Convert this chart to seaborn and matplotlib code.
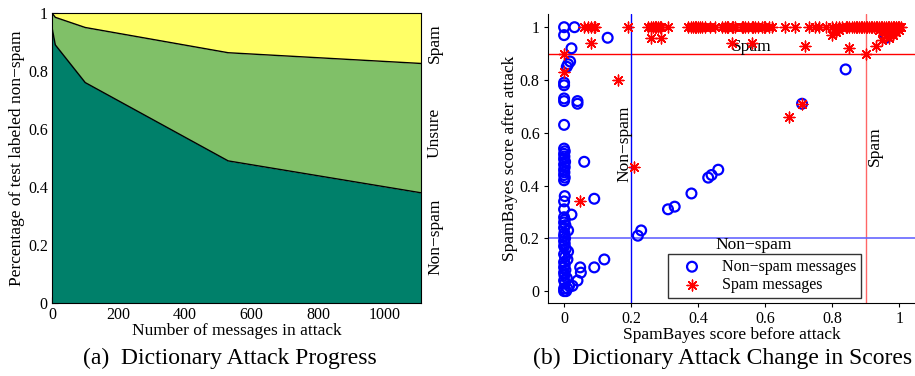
import numpy as np
import pandas as pd
import matplotlib
matplotlib.use("Agg")
import matplotlib.pyplot as plt
import seaborn as sns

# ---- data: (a) attack progress (stacked fractions) ----
n_attack = [0, 10, 100, 530, 1110]
frac_nonspam = [0.95, 0.89, 0.76, 0.49, 0.38]
frac_not_spam = [1.00, 0.985, 0.95, 0.863, 0.826]   # non-spam + unsure

# ---- data: (b) scores before/after attack ----
ns_before = [0.000, 0.000, 0.031, 0.130, 0.022, 0.018, 0.012, 0.008,
             0.000, 0.000, 0.000, 0.000, 0.040, 0.040, 0.000,
             0.000, 0.002, 0.000, 0.001, 0.000, 0.003, 0.000, 0.002, 0.000, 0.001, 0.000, 0.002, 0.000, 0.060,
             0.002, 0.000, 0.000, 0.090, 0.022,
             0.000, 0.002, 0.000, 0.004, 0.000, 0.012, 0.001, 0.000, 0.003, 0.000, 0.002, 0.000, 0.005, 0.012,
             0.000, 0.003, 0.010, 0.000, 0.002, 0.000, 0.004, 0.000, 0.001, 0.008, 0.000, 0.003, 0.015, 0.000,
             0.006, 0.000, 0.010,
             0.048, 0.050, 0.040, 0.090, 0.120, 0.025,
             0.220, 0.230, 0.310, 0.330, 0.380, 0.430, 0.440, 0.460, 0.710, 0.840, 0.960]
ns_after = [1.00, 0.97, 1.00, 0.96, 0.92, 0.87, 0.86, 0.85,
            0.79, 0.78, 0.73, 0.72, 0.72, 0.71, 0.63,
            0.54, 0.53, 0.52, 0.51, 0.50, 0.49, 0.48, 0.47, 0.46, 0.45, 0.44, 0.43, 0.42, 0.49,
            0.36, 0.34, 0.31, 0.35, 0.29,
            0.28, 0.27, 0.26, 0.25, 0.24, 0.23, 0.22, 0.21, 0.20, 0.19, 0.18, 0.17, 0.16, 0.15,
            0.14, 0.13, 0.12, 0.11, 0.10, 0.09, 0.08, 0.07, 0.06, 0.05, 0.04, 0.03, 0.02, 0.01,
            0.00, 0.00, 0.01,
            0.09, 0.07, 0.04, 0.09, 0.12, 0.02,
            0.21, 0.23, 0.31, 0.32, 0.37, 0.43, 0.44, 0.46, 0.71, 0.84, 0.96]

sp_before = [0.000, 0.000, 0.060, 0.070, 0.080, 0.088, 0.093, 0.080, 0.160, 0.190, 0.210, 0.048,
             0.260, 0.290,
             0.25, 0.26, 0.265, 0.27, 0.275, 0.28, 0.285, 0.29, 0.31,
             0.37, 0.38, 0.385, 0.39, 0.395, 0.40, 0.405, 0.41, 0.42, 0.435, 0.45,
             0.47, 0.48, 0.485, 0.49, 0.50, 0.505, 0.51,
             0.53, 0.535, 0.54, 0.55, 0.56, 0.565, 0.57, 0.58, 0.59, 0.595, 0.60, 0.61, 0.62,
             0.66, 0.69, 0.73, 0.75, 0.76, 0.78,
             0.80, 0.81, 0.82, 0.83, 0.84, 0.845, 0.85, 0.86, 0.865, 0.87, 0.875, 0.88, 0.885,
             0.89, 0.895, 0.90, 0.905, 0.91, 0.915, 0.92, 0.925, 0.93, 0.935, 0.94, 0.945, 0.95,
             0.955, 0.96, 0.965, 0.97, 0.975, 0.98, 0.985, 0.99, 0.995, 1.00, 1.005,
             0.50, 0.56, 0.72, 0.85, 0.90, 0.93, 0.67, 0.71, 0.81, 0.82, 0.80,
             0.95, 0.96, 0.97, 0.98, 0.96, 0.97, 0.99, 1.00, 0.95, 0.98, 0.94, 0.99]
sp_after = [0.90, 0.83, 1.00, 1.00, 1.00, 1.00, 1.00, 0.94, 0.80, 1.00, 0.47, 0.34,
            0.96, 0.96,
            1.00, 1.00, 1.00, 1.00, 1.00, 1.00, 1.00, 1.00, 1.00,
            1.00, 1.00, 1.00, 1.00, 1.00, 1.00, 1.00, 1.00, 1.00, 1.00, 1.00,
            1.00, 1.00, 1.00, 1.00, 1.00, 1.00, 1.00,
            1.00, 1.00, 1.00, 1.00, 1.00, 1.00, 1.00, 1.00, 1.00, 1.00, 1.00, 1.00, 1.00,
            1.00, 1.00, 1.00, 1.00, 1.00, 1.00,
            1.00, 1.00, 1.00, 1.00, 1.00, 1.00, 1.00, 1.00, 1.00, 1.00, 1.00, 1.00, 1.00,
            1.00, 1.00, 1.00, 1.00, 1.00, 1.00, 1.00, 1.00, 1.00, 1.00, 1.00, 1.00, 1.00,
            1.00, 1.00, 1.00, 1.00, 1.00, 1.00, 1.00, 1.00, 1.00, 1.00, 1.00,
            0.94, 0.94, 0.93, 0.92, 0.90, 0.93, 0.66, 0.71, 0.98, 0.99, 0.97,
            0.95, 0.97, 0.98, 0.99, 0.99, 0.96, 0.98, 0.99, 0.98, 0.97, 0.99, 1.00]

sns.set_style("ticks")
plt.rcParams['font.family'] = ['Liberation Serif', 'DejaVu Serif']
plt.rcParams.update({"text.color": "black", "axes.labelcolor": "black",
                     "xtick.color": "black", "ytick.color": "black",
                     "axes.edgecolor": "black"})

fig = plt.figure(figsize=(9.15, 3.76), dpi=100)
W, H = 915.0, 376.0
ax1 = fig.add_axes([52 / W, (H - 303) / H, (421 - 52) / W, (303 - 13) / H])
ax2 = fig.add_axes([548 / W, (H - 303) / H, (915 - 548) / W, (303 - 14) / H])

# ---- (a) ----
dark = "#00806a"
mid = "#80c068"
yel = "#ffff66"
ax1.fill_between(n_attack, 0, frac_nonspam, color=dark, lw=0)
ax1.fill_between(n_attack, frac_nonspam, frac_not_spam, color=mid, lw=0)
ax1.fill_between(n_attack, frac_not_spam, 1, color=yel, lw=0)
prog = pd.DataFrame({"n": n_attack, "ns": frac_nonspam, "nsu": frac_not_spam})
sns.lineplot(data=prog, x="n", y="ns", color="black", lw=1, ax=ax1)
sns.lineplot(data=prog, x="n", y="nsu", color="black", lw=1, ax=ax1)
ax1.set_xlim(0, 1110)
ax1.set_ylim(0, 1)
ax1.set_xticks([0, 200, 400, 600, 800, 1000])
ax1.set_yticks([0, 0.2, 0.4, 0.6, 0.8, 1])
ax1.set_yticklabels(["0", "0.2", "0.4", "0.6", "0.8", "1"])
ax1.tick_params(direction="in", labelsize=11.5, length=4, pad=3)
ax1.set_xlabel("Number of messages in attack", fontsize=12.5, labelpad=0)
ax1.set_ylabel("Percentage of test labeled non\u2212spam", fontsize=12.5, labelpad=2)
for s in ax1.spines.values():
    s.set_linewidth(0.8)
for lab, yy in [("Spam", 0.897), ("Unsure", 0.586), ("Non\u2212spam", 0.228)]:
    ax1.text(1.038, yy, lab, rotation=90, transform=ax1.transAxes,
             ha="center", va="center", fontsize=12.5)

# ---- (b) ----
ax2.axhline(0.9, color="red", lw=1)
ax2.axvline(0.9, color="#ff6666", lw=1)
ax2.axvline(0.2, color="blue", lw=1)
ax2.axhline(0.2, color="#6666ff", lw=1.2)
sns.scatterplot(x=ns_before, y=ns_after, marker="o", s=50, fc="none",
                edgecolor="blue", linewidth=1.6, label="Non\u2212spam messages", ax=ax2, zorder=3)
sns.scatterplot(x=sp_before, y=sp_after, marker=(8, 2, 0), s=60, color="red",
                linewidth=1.0, label="Spam messages", ax=ax2, zorder=4)
ax2.set_xlim(-0.048, 1.047)
ax2.set_ylim(-0.045, 1.05)
ticks = [0, 0.2, 0.4, 0.6, 0.8, 1]
tl = ["0", "0.2", "0.4", "0.6", "0.8", "1"]
ax2.set_xticks(ticks)
ax2.set_xticklabels(tl)
ax2.set_yticks(ticks)
ax2.set_yticklabels(tl)
ax2.tick_params(direction="out", labelsize=11.5, length=3, pad=3)
sns.despine(ax=ax2)
for s in ax2.spines.values():
    s.set_linewidth(0.8)
ax2.set_xlabel("SpamBayes score before attack", fontsize=12.5, labelpad=0)
ax2.set_ylabel("SpamBayes score after attack", fontsize=12.5, labelpad=1)
ax2.text(0.56, 0.925, "Spam", ha="center", va="center", fontsize=12.5)
ax2.text(0.565, 0.175, "Non\u2212spam", ha="center", va="center", fontsize=12.5)
ax2.text(0.18, 0.56, "Non\u2212spam", rotation=90, ha="center", va="center", fontsize=12.5)
ax2.text(0.928, 0.55, "Spam", rotation=90, ha="center", va="center", fontsize=12.5)
leg = ax2.legend(loc="lower left", bbox_to_anchor=(0.327, 0.017), borderaxespad=0,
                 fontsize=11.5, frameon=True, fancybox=False, edgecolor="black",
                 handletextpad=0.7, borderpad=0.3, labelspacing=0.15, handlelength=2.4)
leg.get_frame().set_linewidth(1.0)

fig.text(230 / W, 1 - 358 / H, "(a)  Dictionary Attack Progress", ha="center", va="center", fontsize=17)
fig.text(723 / W, 1 - 358 / H, "(b)  Dictionary Attack Change in Scores", ha="center", va="center", fontsize=17)

fig.savefig("out.png", dpi=100)
